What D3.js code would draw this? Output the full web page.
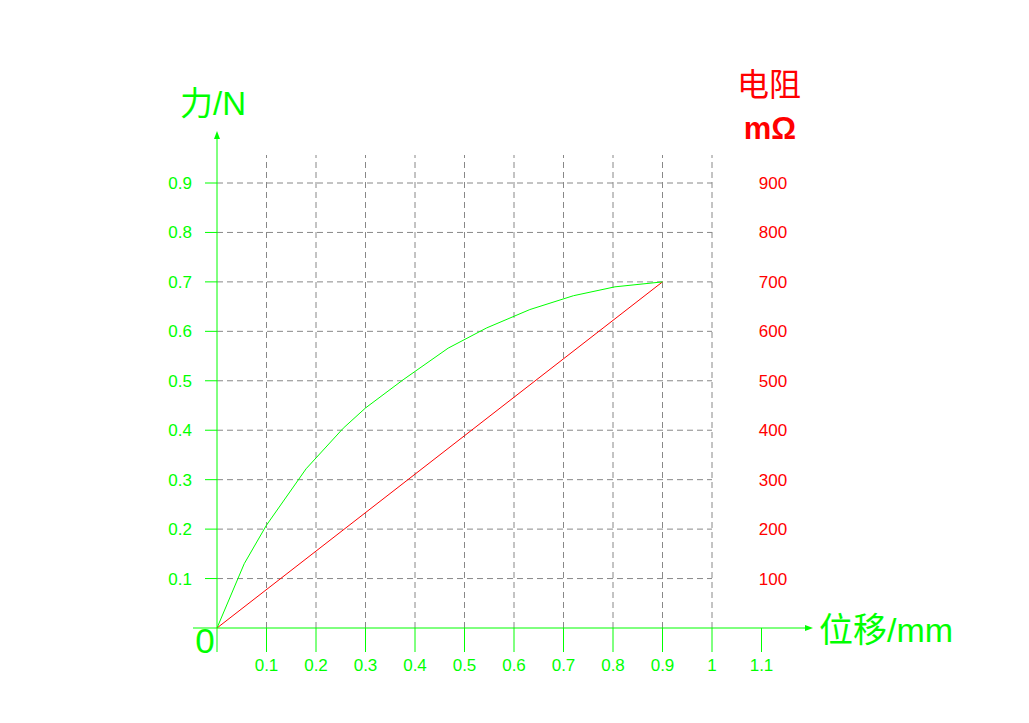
<!DOCTYPE html>
<html><head><meta charset="utf-8">
<script src="https://cdn.jsdelivr.net/npm/d3@7/dist/d3.min.js"></script>
<style>body{margin:0;background:#fff}svg{display:block}</style>
</head><body>
<svg id="c" width="1029" height="723"></svg>
<script>
const forceData = [[0,0],[0.055,0.13],[0.1,0.208],[0.18,0.322],[0.255,0.404],[0.3,0.445],[0.376,0.502],[0.467,0.566],[0.545,0.607],[0.632,0.644],[0.72,0.672],[0.804,0.69],[0.9,0.7]];
const resistData = [[0,0],[0.9,700]];
const xTicks = [0.1,0.2,0.3,0.4,0.5,0.6,0.7,0.8,0.9,1,1.1];
const xGrid = [0.1,0.2,0.3,0.4,0.5,0.6,0.7,0.8,0.9,1];
const yTicks = [0.1,0.2,0.3,0.4,0.5,0.6,0.7,0.8,0.9];
const rTicks = [100,200,300,400,500,600,700,800,900];

const G = "#00ff00", R = "#ff0000", GR = "#888";
const svg = d3.select("#c");
const font = "Liberation Sans, Arial, sans-serif";
const cjk = "Liberation Sans, Noto Sans CJK SC, sans-serif";
const x = d3.scaleLinear().domain([0,1]).range([217,712]);
const y = d3.scaleLinear().domain([0,0.9]).range([628,183]);
const yr = d3.scaleLinear().domain([0,900]).range([628,183]);

// grid
svg.append("g").selectAll("line").data(yTicks).join("line")
  .attr("x1",x(0)).attr("x2",x(1)).attr("y1",d=>y(d)).attr("y2",d=>y(d))
  .attr("stroke",GR).attr("stroke-width",1).attr("stroke-dasharray","6,4");
svg.append("g").selectAll("line").data(xGrid).join("line")
  .attr("x1",d=>x(d)).attr("x2",d=>x(d)).attr("y1",y(0)).attr("y2",155)
  .attr("stroke",GR).attr("stroke-width",1).attr("stroke-dasharray","6,4");

// y ticks (green)
svg.append("g").selectAll("line").data(yTicks).join("line")
  .attr("x1",205).attr("x2",x(0)).attr("y1",d=>y(d)).attr("y2",d=>y(d))
  .attr("stroke",G).attr("stroke-width",1);
// x ticks
svg.append("g").selectAll("line").data(xTicks).join("line")
  .attr("x1",d=>x(d)).attr("x2",d=>x(d)).attr("y1",y(0)).attr("y2",652)
  .attr("stroke",G).attr("stroke-width",1);

// axes
svg.append("line").attr("x1",x(0)).attr("x2",x(0)).attr("y1",y(0)+24).attr("y2",136).attr("stroke",G);
svg.append("path").attr("d",`M${x(0)},131 L${x(0)-3},139 L${x(0)+3},139 Z`).attr("fill",G);
svg.append("line").attr("x1",193).attr("x2",808).attr("y1",y(0)).attr("y2",y(0)).attr("stroke",G);
svg.append("path").attr("d",`M813,${y(0)} L805,${y(0)-3} L805,${y(0)+3} Z`).attr("fill",G);

// tick labels
svg.append("g").selectAll("text").data(xTicks).join("text")
  .attr("x",d=>x(d)).attr("y",671).attr("text-anchor","middle")
  .attr("font-family",font).attr("font-size",17).attr("fill",G).text(d=>d);
svg.append("g").selectAll("text").data(yTicks).join("text")
  .attr("x",192).attr("y",d=>y(d)+6).attr("text-anchor","end")
  .attr("font-family",font).attr("font-size",17).attr("fill",G).text(d=>d);
svg.append("g").selectAll("text").data(rTicks).join("text")
  .attr("x",773).attr("y",d=>yr(d)+6).attr("text-anchor","middle")
  .attr("font-family",font).attr("font-size",17).attr("fill",R).text(d=>d);

// titles
svg.append("text").attr("x",205).attr("y",653).attr("text-anchor","middle")
  .attr("font-family",font).attr("font-size",35).attr("fill",G).text("0");
svg.append("text").attr("x",213).attr("y",115).attr("text-anchor","middle")
  .attr("font-family",cjk).attr("font-size",33).attr("fill",G).text("力/N");
svg.append("text").attr("x",819).attr("y",642)
  .attr("font-family",cjk).attr("font-size",34).attr("fill",G).text("位移/mm");
svg.append("text").attr("x",769).attr("y",96).attr("text-anchor","middle")
  .attr("font-family",cjk).attr("font-size",32).attr("fill",R).text("电阻");
svg.append("text").attr("x",770).attr("y",139).attr("text-anchor","middle")
  .attr("font-family",font).attr("font-size",31).attr("font-weight","bold").attr("fill",R).text("mΩ");

// lines
const lf = d3.line().x(d=>x(d[0])).y(d=>y(d[1]));
const lr = d3.line().x(d=>x(d[0])).y(d=>yr(d[1]));
svg.append("path").datum(resistData).attr("d",lr).attr("fill","none").attr("stroke",R).attr("stroke-width",1);
svg.append("path").datum(forceData).attr("d",lf).attr("fill","none").attr("stroke",G).attr("stroke-width",1);
</script>
</body></html>
